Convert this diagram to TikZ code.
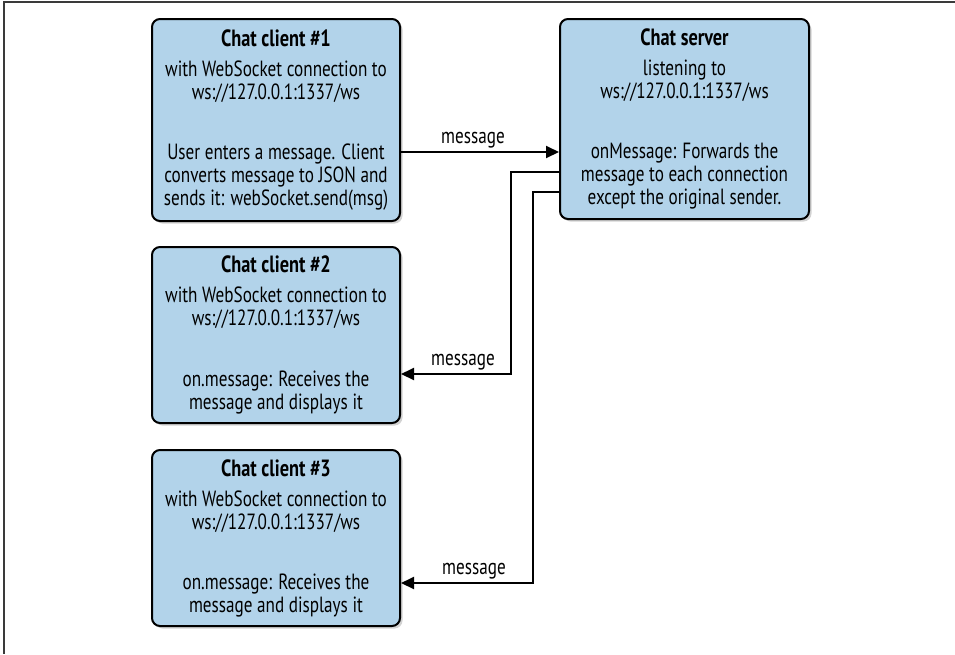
\documentclass[tikz,border=0pt]{standalone}
\usepackage{fontspec}
\setmainfont{PT Sans}[FakeStretch=0.78]
\usetikzlibrary{arrows.meta,shadows,calc}
\definecolor{boxblue}{HTML}{B2D3EA}
\definecolor{framegrey}{HTML}{3A3A3A}
\tikzset{
  box/.style={draw=black, line width=2pt, rounded corners=8pt, fill=boxblue,
    align=center, inner sep=0pt, font=\fontsize{22}{23}\selectfont,
    drop shadow={opacity=0.35, shadow xshift=2.5pt, shadow yshift=-2.5pt}},
  conn/.style={line width=2pt, -{Triangle[length=13pt,width=12pt]}},
  lbl/.style={font=\fontsize{22}{23}\selectfont, inner sep=3pt}
}
\newcommand{\ttlfont}{\bfseries\fontsize{23.5}{23}\selectfont}
\begin{document}
\begin{tikzpicture}[x=1pt,y=-1pt]
\useasboundingbox (0,0) rectangle (955,654);
\fill[white] (0,0) rectangle (955,654);
\draw[framegrey, line width=1.5pt] (955,2) -- (4,2) -- (4,654);

\node[box, minimum width=248pt, minimum height=202pt] (c1) at (276,120)
  {{\ttlfont Chat client \#1}\\[7pt]
   with WebSocket connection to\\ ws://127.0.0.1:1337/ws\\[37pt]
   User enters a message. Client\\ converts message to JSON and\\ sends it: webSocket.send(msg)};

\node[box, minimum width=249pt, minimum height=200pt] (srv) at (684.5,119)
  {{\ttlfont Chat server}\\[7pt]
   listening to\\ ws://127.0.0.1:1337/ws\\[37pt]
   onMessage: Forwards the\\ message to each connection\\ except the original sender.};

\node[box, minimum width=248pt, minimum height=176pt] (c2) at (276,335)
  {{\ttlfont Chat client \#2}\\[7pt]
   with WebSocket connection to\\ ws://127.0.0.1:1337/ws\\[38pt]
   on.message: Receives the\\ message and displays it};

\node[box, minimum width=248pt, minimum height=176pt] (c3) at (276,538)
  {{\ttlfont Chat client \#3}\\[7pt]
   with WebSocket connection to\\ ws://127.0.0.1:1337/ws\\[37pt]
   on.message: Receives the\\ message and displays it};

\draw[conn] ([yshift=-32pt]c1.east) -- node[lbl, above, xshift=-7pt] {message} ([yshift=-32pt]c1.east -| srv.west);
\draw[conn] ([yshift=-53pt]srv.west) -- ++(-48,0) |- node[lbl, above, pos=0.75, xshift=7pt] {message} ([yshift=-39pt]c2.east);
\draw[conn] ([yshift=-73pt]srv.west) -- ++(-26,0) |- node[lbl, above, pos=0.75, xshift=7pt] {message} ([yshift=-45pt]c3.east);
\end{tikzpicture}
\end{document}
